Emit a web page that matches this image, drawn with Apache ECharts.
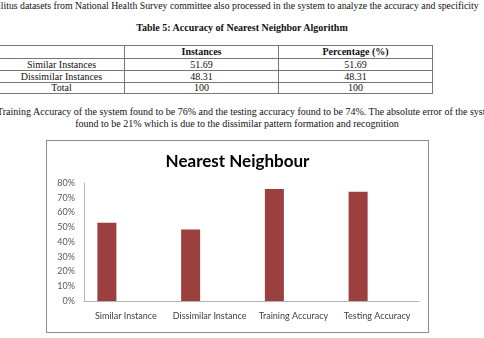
<!DOCTYPE html>
<html>
<head>
<meta charset="utf-8">
<script src="https://cdn.jsdelivr.net/npm/echarts@6/dist/echarts.min.js"></script>
<style>
html,body{margin:0;padding:0;background:#fff;}
body{width:484px;height:338px;overflow:hidden;position:relative;font-family:"Liberation Serif","Times New Roman",serif;color:#111;}
.t{position:absolute;white-space:nowrap;font-size:10px;line-height:12px;}
table{position:absolute;left:-2px;top:45px;border-collapse:collapse;font-size:10px;line-height:10px;font-family:"Liberation Serif","Times New Roman",serif;}
td,th{border:1px solid #777;text-align:center;padding:0;}
#chart{position:absolute;left:46px;top:140px;width:381px;height:191px;border:1px solid #8c8c8c;}
</style>
</head>
<body>
<div class="t" style="left:-2px;top:0px;font-size:9.8px;">llitus datasets from National Health Survey committee also processed in the system to analyze the accuracy and specificity</div>
<div class="t" style="left:0;width:484px;top:22px;text-align:center;font-weight:bold;">Table 5: Accuracy of Nearest Neighbor Algorithm</div>
<table>
<tr style="height:13px"><th style="width:125px"></th><th style="width:153px">Instances</th><th style="width:153px">Percentage (%)</th></tr>
<tr style="height:12px"><td>Similar Instances</td><td>51.69</td><td>51.69</td></tr>
<tr style="height:12px"><td>Dissimilar Instances</td><td>48.31</td><td>48.31</td></tr>
<tr style="height:11px"><td>Total</td><td>100</td><td>100</td></tr>
</table>
<div class="t" style="left:-3px;top:106px;">Training Accuracy of the system found to be 76% and the testing accuracy found to be 74%. The absolute error of the system</div>
<div class="t" style="left:0;width:474px;top:118px;text-align:center;">found to be 21% which is due to the dissimilar pattern formation and recognition</div>
<div id="chart"></div>
<script>
var chartTitle = 'Nearest Neighbour';
var categories = ['Similar Instance', 'Dissimilar Instance', 'Training Accuracy', 'Testing Accuracy'];
var accuracyValues = [53, 48.5, 76, 74];
var yTicks = [0, 10, 20, 30, 40, 50, 60, 70, 80];

var chart = echarts.init(document.getElementById('chart'));
var font = 'Lato, "Open Sans", sans-serif';
chart.setOption({
  animation: false,
  title: {
    text: chartTitle, left: 'center', top: 7,
    textStyle: {fontFamily: font, fontSize: 17, fontWeight: 'bold', color: '#000'}
  },
  grid: {left: 37, right: 9, top: 42, bottom: 31, containLabel: false},
  xAxis: {
    type: 'category', data: categories,
    axisLine: {lineStyle: {color: '#b3b3b3'}},
    axisTick: {show: false},
    axisLabel: {fontFamily: font, fontSize: 9, color: '#404040', margin: 11, interval: 0}
  },
  yAxis: {
    type: 'value', min: yTicks[0], max: yTicks[yTicks.length - 1], interval: 10,
    axisLine: {show: true, lineStyle: {color: '#b3b3b3'}},
    axisTick: {show: false},
    splitLine: {show: false},
    axisLabel: {fontFamily: font, fontSize: 9, color: '#595959', margin: 9, formatter: '{value}%'}
  },
  series: [
    {type: 'bar', data: accuracyValues, barWidth: 19, barGap: '0%', itemStyle: {color: '#9b3f3f'}},
    {type: 'bar', data: [], barWidth: 19, barGap: '0%'},
    {type: 'bar', data: [], barWidth: 19, barGap: '0%'}
  ]
});
</script>
</body>
</html>
